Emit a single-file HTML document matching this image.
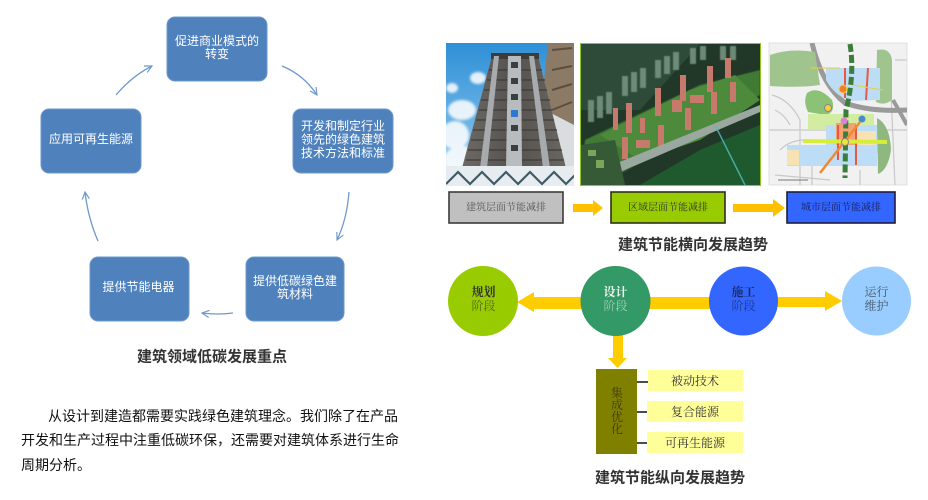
<!DOCTYPE html>
<html><head><meta charset="utf-8">
<style>
html,body{margin:0;padding:0;background:#fff;}
body{width:928px;height:500px;overflow:hidden;position:relative;font-family:"Liberation Sans","Noto Sans CJK SC",sans-serif;}
.p{position:absolute;white-space:nowrap;font-size:14px;letter-spacing:0px;color:#111;line-height:16px;}
</style></head><body>
<svg width="928" height="500" viewBox="0 0 928 500" xmlns="http://www.w3.org/2000/svg" style="position:absolute;left:0;top:0">
<defs>
<marker id="ah" viewBox="0 0 10 10" refX="9" refY="5" markerWidth="9" markerHeight="9" orient="auto" markerUnits="userSpaceOnUse">
<path d="M1,1 L9,5 L1,9" fill="none" stroke="#6f98cd" stroke-width="1.3"/>
</marker>
<linearGradient id="sky" x1="0" y1="0" x2="0" y2="1">
<stop offset="0" stop-color="#2f8fd6"/><stop offset="0.6" stop-color="#6fb6e6"/><stop offset="1" stop-color="#cfe6f4"/>
</linearGradient>
<linearGradient id="bld" x1="0" y1="0" x2="1" y2="0">
<stop offset="0" stop-color="#6d6a66"/><stop offset="0.5" stop-color="#55524f"/><stop offset="1" stop-color="#6a6762"/>
</linearGradient>
<filter id="bl" x="-5%" y="-5%" width="110%" height="110%"><feGaussianBlur stdDeviation="1.2"/></filter>
<filter id="bl2"><feGaussianBlur stdDeviation="0.6"/></filter>
<clipPath id="c1"><rect x="446" y="43" width="128" height="143"/></clipPath>
<clipPath id="c2"><rect x="581" y="44" width="179" height="141"/></clipPath>
<clipPath id="c3"><rect x="769" y="43" width="138" height="142"/></clipPath>
</defs>

<!-- LEFT CYCLE DIAGRAM -->
<g fill="#4f81bd" stroke="#6d98cc" stroke-width="1">
<rect x="167" y="17" width="100" height="64" rx="8"/>
<rect x="293" y="109" width="100" height="64" rx="8"/>
<rect x="41" y="109" width="100" height="64" rx="8"/>
<rect x="246" y="257" width="98" height="64" rx="8"/>
<rect x="90" y="257" width="99" height="64" rx="8"/>
</g>
<g fill="#ffffff" font-family="Liberation Sans, Noto Sans CJK SC, sans-serif" font-size="12" text-anchor="middle" dominant-baseline="central">
<text x="217" y="41">促进商业模式的</text>
<text x="217" y="54">转变</text>
<text x="343" y="126">开发和制定行业</text>
<text x="343" y="139.5">领先的绿色建筑</text>
<text x="343" y="153">技术方法和标准</text>
<text x="91" y="139">应用可再生能源</text>
<text x="295" y="281">提供低碳绿色建</text>
<text x="295" y="294">筑材料</text>
<text x="138.5" y="287">提供节能电器</text>
</g>
<g fill="none" stroke="#6f98cd" stroke-width="1.3">
<path d="M282,66 Q304,75 317,95" marker-end="url(#ah)"/>
<path d="M349,192 Q347,219 337,240" marker-end="url(#ah)"/>
<path d="M233,313 Q218,315 202,313" marker-end="url(#ah)"/>
<path d="M98,241 Q88,218 85,192" marker-end="url(#ah)"/>
<path d="M116,95 Q132,76 152,66" marker-end="url(#ah)"/>
</g>
<text x="212" y="357" font-family="Liberation Sans, Noto Sans CJK SC, sans-serif" font-size="15" font-weight="bold" fill="#333" text-anchor="middle" dominant-baseline="central">建筑领域低碳发展重点</text>

<!-- PHOTO 1 -->
<g clip-path="url(#c1)">
<rect x="446" y="43" width="128" height="143" fill="url(#sky)"/>
<g fill="#ffffff" opacity="0.85" filter="url(#bl)">
<ellipse cx="462" cy="110" rx="14" ry="10"/>
<ellipse cx="455" cy="135" rx="14" ry="14"/>
<ellipse cx="462" cy="160" rx="18" ry="14"/>
<ellipse cx="478" cy="78" rx="8" ry="6"/>
<ellipse cx="452" cy="88" rx="6" ry="5"/>
</g>
<polygon points="548,43 574,43 574,186 548,186 540,120" fill="#8a7a66"/>
<g stroke="#4a3a2a" stroke-width="2" opacity="0.7">
<line x1="552" y1="50" x2="572" y2="48"/><line x1="552" y1="70" x2="572" y2="66"/>
<line x1="552" y1="90" x2="572" y2="84"/><line x1="552" y1="110" x2="572" y2="102"/>
</g>
<polygon points="545,110 574,125 574,186 540,186" fill="#d9dde0"/>
<polygon points="492,56 538,56 566,168 462,168" fill="url(#bld)"/>
<rect x="491" y="53" width="48" height="6" fill="#3e3c3a"/>
<g stroke="#3e3b38" stroke-width="1.4" opacity="0.8">
<line x1="489" y1="70" x2="542" y2="70"/><line x1="487" y1="80" x2="545" y2="80"/>
<line x1="484" y1="90" x2="547" y2="90"/><line x1="481" y1="100" x2="550" y2="100"/>
<line x1="479" y1="110" x2="552" y2="110"/><line x1="476" y1="120" x2="554" y2="120"/>
<line x1="473" y1="130" x2="557" y2="130"/><line x1="471" y1="140" x2="559" y2="140"/>
<line x1="468" y1="150" x2="562" y2="150"/><line x1="466" y1="160" x2="564" y2="160"/>
</g>
<polygon points="508,56 521,56 522,168 506,168" fill="#b9bcbf"/>
<g fill="#3a3f44"><rect x="511" y="62" width="7" height="6"/><rect x="511" y="78" width="7" height="6"/><rect x="511" y="94" width="7" height="6"/><rect x="511" y="125" width="7" height="6"/><rect x="511" y="145" width="7" height="6"/></g>
<rect x="511" y="110" width="7" height="7" fill="#2a7ad0"/>
<polygon points="494,56 499,56 487,168 480,168" fill="#a7abae"/>
<polygon points="529,56 534,56 550,168 543,168" fill="#a7abae"/>
<rect x="446" y="166" width="128" height="20" fill="#e6ecef"/>
<polyline points="446,184 458,172 470,184 482,172 494,184 506,172 518,184 530,172 542,184 554,172 566,184 578,172" fill="none" stroke="#3d5a66" stroke-width="2.2"/>
</g>

<!-- PHOTO 2 -->
<rect x="580" y="43" width="181" height="143" fill="#8fc31f"/>
<g clip-path="url(#c2)">
<rect x="581" y="44" width="179" height="141" fill="#213829"/>
<polygon points="581,44 700,44 640,110 581,110" fill="#2e4a38"/>
<g fill="#74927f" opacity="0.9" filter="url(#bl2)">
<rect x="588" y="100" width="6" height="22"/><rect x="597" y="96" width="6" height="22"/><rect x="606" y="92" width="6" height="22"/>
<rect x="622" y="76" width="6" height="20"/><rect x="631" y="72" width="6" height="20"/><rect x="640" y="68" width="6" height="20"/>
<rect x="655" y="60" width="6" height="18"/><rect x="664" y="56" width="6" height="18"/><rect x="673" y="52" width="6" height="18"/>
<rect x="690" y="48" width="6" height="16"/><rect x="700" y="46" width="6" height="14"/>
<rect x="720" y="46" width="6" height="14"/><rect x="730" y="46" width="6" height="14"/>
</g>
<polygon points="585,140 700,85 760,70 760,95 680,140 600,185 581,185" fill="#3f7a34" filter="url(#bl2)"/>
<polygon points="600,135 690,90 735,75 760,100 700,140 640,160" fill="#4e8a3c"/>
<g fill="#c77a6c">
<rect x="613" y="108" width="5" height="22"/><rect x="626" y="103" width="6" height="30"/><rect x="622" y="137" width="6" height="22"/>
<rect x="655" y="88" width="6" height="28"/><rect x="658" y="125" width="6" height="22"/><rect x="640" y="118" width="5" height="15"/>
<rect x="680" y="75" width="6" height="26"/><rect x="685" y="108" width="6" height="22"/><rect x="672" y="100" width="10" height="12"/>
<rect x="707" y="66" width="6" height="26"/><rect x="711" y="92" width="6" height="22"/><rect x="725" y="58" width="6" height="20"/><rect x="730" y="82" width="6" height="20"/>
<rect x="690" y="95" width="14" height="8"/><rect x="636" y="140" width="14" height="8"/>
</g>
<polygon points="600,170 760,105 760,112 606,178" fill="#9aa89f"/>
<polygon points="581,160 615,180 610,185 581,168" fill="#7a8a80"/>
<polygon points="640,185 700,150 760,125 760,185" fill="#1f5a2e"/>
<line x1="715" y1="125" x2="745" y2="185" stroke="#50c0c0" stroke-width="1.5" opacity="0.8"/>
<polygon points="581,145 615,140 625,185 581,185" fill="#355a35"/>
<g fill="#7ba55a"><rect x="588" y="150" width="8" height="6"/><rect x="596" y="160" width="8" height="8"/></g>
</g>

<!-- PHOTO 3 map -->
<rect x="769" y="43" width="138" height="142" fill="#f1f1f1" stroke="#e0e0e0"/>
<g clip-path="url(#c3)">
<g fill="none" stroke="#c8c8c8" stroke-width="1.2">
<path d="M772,95 Q790,100 800,120 L800,185"/><path d="M769,130 L907,130"/><path d="M780,150 Q790,140 805,140"/>
<path d="M895,60 L907,60"/><path d="M890,70 L895,185"/><path d="M775,175 L830,180"/>
<path d="M775,110 Q785,115 790,125"/><path d="M812,160 L812,185"/><path d="M860,170 L860,185"/>
</g>
<path d="M812,43 Q822,85 845,103 Q870,112 907,110" fill="none" stroke="#9a9a9a" stroke-width="5"/>
<path d="M893,100 Q900,112 907,125" fill="none" stroke="#9a9a9a" stroke-width="4"/>
<path d="M770,55 Q790,48 815,52 L820,85 Q800,88 770,86 Z" fill="#9fc48d"/>
<path d="M877,50 Q890,47 892,60 L892,100 Q884,106 876,102 Z" fill="#9fc48d"/>
<path d="M826,68 L880,68 L880,100 L850,101 Q834,95 826,80 Z" fill="#bddcf5"/>
<path d="M807,93 Q818,85 832,100 Q836,112 826,115 L808,112 Q803,102 807,93 Z" fill="#8cc276"/>
<rect x="808" y="114" width="66" height="15" fill="#d2eda2"/>
<rect x="826" y="125" width="52" height="28" fill="#bddcf5"/>
<rect x="836" y="123" width="20" height="22" fill="#f3a271"/>
<rect x="856" y="131" width="20" height="22" fill="#f6e2b2"/>
<path d="M787,145 L877,145 L877,166 L787,166 Z" fill="#bddcf5"/>
<rect x="787" y="150" width="12" height="15" fill="#f6e2b2"/>
<path d="M877,118 Q890,125 891,150 Q888,170 878,174 Z" fill="#8fb880"/>
<g stroke="#e45a45" stroke-width="2"><line x1="845" y1="68" x2="845" y2="98"/><line x1="868" y1="68" x2="866" y2="100"/><line x1="838" y1="125" x2="838" y2="160"/><line x1="856" y1="125" x2="856" y2="165"/></g>
<g stroke="#e8d040" stroke-width="1"><line x1="810" y1="68" x2="840" y2="68"/><line x1="853" y1="85" x2="883" y2="90"/></g>
<path d="M850,44 Q855,75 846,110 L845,178" fill="none" stroke="#3b7d3b" stroke-width="5" stroke-dasharray="8,3"/>
<line x1="803" y1="141" x2="887" y2="142" stroke="#d6ee3a" stroke-width="4"/>
<line x1="820" y1="173" x2="860" y2="122" stroke="#f08a30" stroke-width="2.5"/>
<circle cx="843" cy="89" r="4" fill="#f08030" stroke="#f6d040"/>
<circle cx="828" cy="108" r="3.5" fill="#f6d040" stroke="#888"/>
<circle cx="844" cy="121" r="3.5" fill="#e080d0"/>
<circle cx="862" cy="119" r="3.5" fill="#4a8ad0"/>
<circle cx="845" cy="142" r="3.5" fill="#f6e040" stroke="#888"/>
<line x1="778" y1="180" x2="808" y2="180" stroke="#777" stroke-width="1"/>
</g>

<!-- horizontal trend boxes -->
<rect x="449" y="192" width="114" height="31" fill="#c0c0c0" stroke="#3c3c3c" stroke-width="1.6"/>
<rect x="611" y="192" width="114" height="31" fill="#99cc00" stroke="#2e2e1e" stroke-width="1.6"/>
<rect x="787" y="192" width="108" height="31" fill="#3366ff" stroke="#1e1e3c" stroke-width="1.6"/>
<g font-family="Liberation Serif, Noto Serif CJK SC, serif" font-size="10" text-anchor="middle" dominant-baseline="central">
<text x="506" y="208" fill="#555">建筑层面节能减排</text>
<text x="668" y="208" fill="#333">区域层面节能减排</text>
<text x="841" y="208" fill="#1a2060">城市层面节能减排</text>
</g>
<g fill="#ffc000">
<polygon points="573,204 593,204 593,200 603,208 593,216 593,212 573,212"/>
<polygon points="733,204 773,204 773,199 785,208 773,217 773,212 733,212"/>
</g>
<text x="693" y="245" font-family="Liberation Sans, Noto Sans CJK SC, sans-serif" font-size="15" font-weight="bold" fill="#333" text-anchor="middle" dominant-baseline="central">建筑节能横向发展趋势</text>

<!-- vertical trend -->
<g fill="#ffcc00">
<polygon points="581,297 534,297 534,292 517,302 534,312 534,309 581,309"/>
<rect x="648" y="297" width="63" height="12"/>
<polygon points="776,297 825,297 825,291 842,301 825,311 825,307 776,307"/>
<polygon points="613,334 623,334 623,358 627,358 617.5,368 608,358 613,358"/>
</g>
<circle cx="483" cy="301" r="35" fill="#99cc00"/>
<circle cx="615.5" cy="301" r="35" fill="#339966"/>
<circle cx="743.5" cy="301" r="34.5" fill="#3366ff"/>
<circle cx="876.5" cy="301" r="34.5" fill="#99ccff"/>
<g font-family="Liberation Serif, Noto Serif CJK SC, serif" font-size="12" text-anchor="middle" dominant-baseline="central">
<text x="483.5" y="292" fill="#333" font-weight="bold">规划</text>
<text x="483.5" y="306" fill="#556a1a">阶段</text>
<text x="615.5" y="292" fill="#f4f4f4" font-weight="bold">设计</text>
<text x="615.5" y="306" fill="#9fd0b4">阶段</text>
<text x="743.5" y="292" fill="#1a2a66" font-weight="bold">施工</text>
<text x="743.5" y="306" fill="#1e3a90">阶段</text>
<text x="876.5" y="292" fill="#445566">运行</text>
<text x="876.5" y="306" fill="#445566">维护</text>
</g>
<rect x="596" y="369" width="41" height="85" fill="#808000"/>
<g font-family="Liberation Serif, Noto Serif CJK SC, serif" font-size="12" text-anchor="middle" dominant-baseline="central" fill="#3c3c10">
<text x="617" y="393">集</text><text x="617" y="405">成</text><text x="617" y="417">优</text><text x="617" y="429">化</text>
</g>
<g stroke="#111" stroke-width="1.5">
<line x1="637" y1="382" x2="648" y2="382"/><line x1="637" y1="412" x2="648" y2="412"/><line x1="637" y1="443" x2="648" y2="443"/>
</g>
<g fill="#ffff99">
<rect x="648" y="370" width="95" height="21"/><rect x="647" y="401" width="96" height="21"/><rect x="647" y="432" width="96" height="21"/>
</g>
<g font-family="Liberation Serif, Noto Serif CJK SC, serif" font-size="12" text-anchor="middle" dominant-baseline="central" fill="#333">
<text x="695" y="381">被动技术</text><text x="695" y="412">复合能源</text><text x="695" y="443">可再生能源</text>
</g>
<text x="670" y="478" font-family="Liberation Sans, Noto Sans CJK SC, sans-serif" font-size="15" font-weight="bold" fill="#333" text-anchor="middle" dominant-baseline="central">建筑节能纵向发展趋势</text>
</svg>

<div class="p" style="left:48px;top:408px;">从设计到建造都需要实践绿色建筑理念。我们除了在产品</div>
<div class="p" style="left:21px;top:432px;">开发和生产过程中注重低碳环保，还需要对建筑体系进行生命</div>
<div class="p" style="left:21px;top:457px;">周期分析。</div>
</body></html>
